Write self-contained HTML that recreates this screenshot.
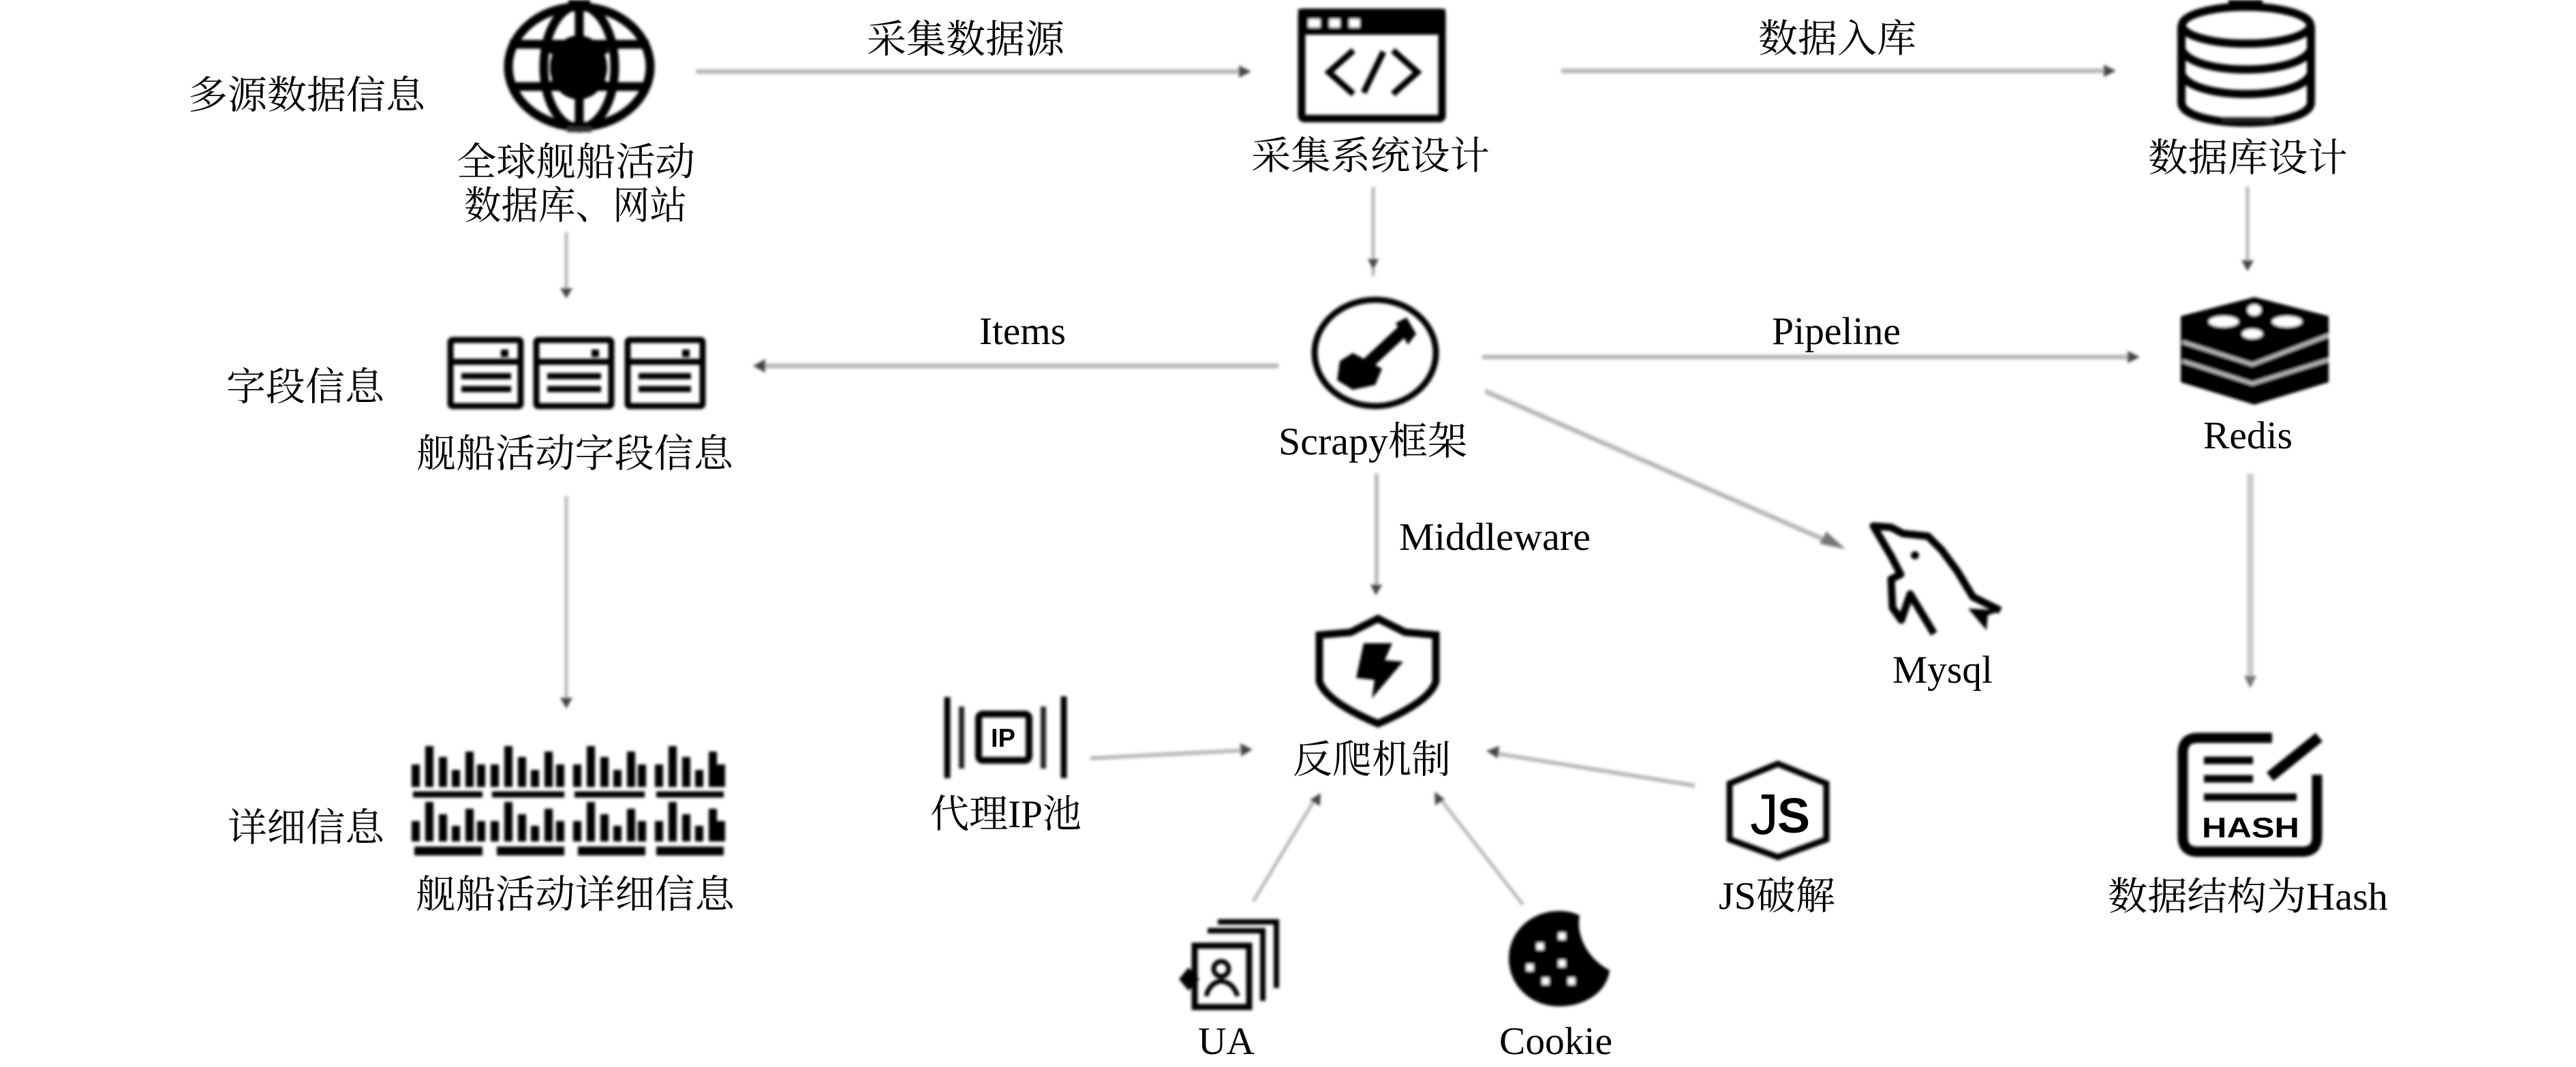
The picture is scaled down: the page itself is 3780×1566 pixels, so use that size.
<!DOCTYPE html>
<html><head><meta charset="utf-8"><style>
html,body{margin:0;padding:0;background:#fff}
svg{display:block}
text{font-family:"Liberation Serif","Noto Serif CJK SC",serif;font-size:57px;fill:#000}
.i{fill:none;stroke:#000}
.l{stroke:#b8b8b8;stroke-width:7;fill:none}
.h{fill:#444}
</style></head><body>
<svg xmlns="http://www.w3.org/2000/svg" width="3780" height="1566" viewBox="0 0 3780 1566">
<defs><filter id="b" x="-5%" y="-5%" width="110%" height="110%"><feGaussianBlur stdDeviation="2"/></filter></defs>
<rect width="3780" height="1566" fill="#fff"/>

<!-- connectors -->
<g filter="url(#b)">
<path class="l" d="M1021 105H1826"/><polygon class="h" points="1818,96 1836,105 1818,114"/>
<path class="l" d="M2291 104H3095"/><polygon class="h" points="3087,95 3105,104 3087,113"/>
<path class="l" style="stroke-width:5" d="M831 341V430"/><polygon class="h" points="822,423 840,423 831,438"/>
<path class="l" style="stroke-width:5" d="M2015 274V405"/><polygon class="h" points="2007,380 2023,380 2015,396"/>
<path class="l" d="M1876 537H1115"/><polygon class="h" points="1123,527 1105,537 1123,547"/>
<path class="l" d="M2175 524H3130"/><polygon class="h" points="3122,515 3140,524 3122,533"/>
<path class="l" d="M2179 574L2695 800"/><polygon class="h" points="2680,780 2708,806 2670,798" style="fill:#777"/>
<path class="l" style="stroke-width:6" d="M2020 695V865"/><polygon class="h" points="2011,858 2028,858 2019,874"/>
<path class="l" style="stroke-width:5" d="M3298 274V390"/><polygon class="h" points="3289,382 3307,382 3298,398"/>
<path class="l" style="stroke:#ccc;stroke-width:10" d="M3302 695V1005"/><polygon class="h" points="3293,992 3311,992 3302,1010" style="fill:#777"/>
<path class="l" style="stroke-width:5" d="M831 728V1025"/><polygon class="h" points="822,1024 840,1024 831,1040"/>
<path class="l" style="stroke-width:6" d="M1600 1113L1828 1101"/><polygon class="h" points="1820,1091 1838,1100 1821,1110"/>
<path class="l" style="stroke-width:6" d="M2487 1153L2190 1105"/><polygon class="h" points="2200,1095 2181,1102 2198,1113"/>
<path class="l" style="stroke-width:5" d="M1839 1323L1930 1172"/><polygon class="h" points="1922,1174 1938,1164 1937,1183"/>
<path class="l" style="stroke-width:5" d="M2235 1328L2113 1172"/><polygon class="h" points="2106,1182 2105,1162 2120,1173"/>
</g>

<!-- icons -->
<g filter="url(#b)">
<!-- globe -->
<g class="i" stroke-width="13">
<ellipse cx="850" cy="98" rx="104" ry="88"/>
<ellipse cx="850" cy="98" rx="52" ry="90"/>
<path d="M748 65H952M748 127H952M850 6V190"/>
</g>
<ellipse cx="849" cy="99" rx="42" ry="47" fill="#000"/>
<path d="M806 72L892 126M892 72L806 126" stroke="#000" stroke-width="9"/>
<rect x="834" y="0" width="32" height="10" fill="#000"/><rect x="832" y="186" width="36" height="8" fill="#333"/>

<!-- field icons -->
<g class="i" stroke-width="9">
<rect x="661" y="499" width="103" height="97" rx="3"/><path d="M661 531H764M677 552H750M677 571H750"/>
<rect x="787" y="499" width="110" height="97" rx="3"/><path d="M787 531H897M803 552H882M803 571H882"/>
<rect x="921" y="499" width="110" height="97" rx="3"/><path d="M921 531H1031M937 552H1014M937 571H1014"/>
</g>
<rect x="735" y="513" width="11" height="11"/><rect x="868" y="513" width="11" height="11"/><rect x="1001" y="513" width="11" height="11"/>

<!-- bars -->
<g stroke="#000" stroke-width="12" fill="none">
<path d="M610 1155V1122M630 1155V1095M650 1155V1111M669 1155V1130M689 1155V1103M706 1155V1122 M726 1155V1122M746 1155V1095M766 1155V1111M785 1155V1130M805 1155V1103M822 1155V1122 M847 1155V1122M867 1155V1095M887 1155V1111M906 1155V1130M926 1155V1103M942 1155V1122 M967 1155V1122M987 1155V1095M1007 1155V1111M1026 1155V1130M1046 1155V1103M1058 1155V1122"/>
<path d="M610 1235V1205M630 1235V1177M650 1235V1195M669 1235V1212M689 1235V1187M706 1235V1205 M726 1235V1205M746 1235V1177M766 1235V1195M785 1235V1212M805 1235V1187M822 1235V1205 M847 1235V1205M867 1235V1177M887 1235V1195M906 1235V1212M926 1235V1187M942 1235V1205 M967 1235V1205M987 1235V1177M1007 1235V1195M1026 1235V1212M1046 1235V1187M1058 1235V1205"/>
<path stroke-width="9" d="M606 1166H708M722 1166H828M843 1166H946M963 1166H1062"/>
<path stroke-width="13" d="M608 1249H708M729 1249H828M848 1249H947M963 1249H1062"/>
</g>

<!-- window -->
<rect x="1910" y="18" width="206" height="156" rx="4" class="i" stroke-width="11"/>
<rect x="1905" y="13" width="216" height="38" fill="#000"/>
<rect x="1920" y="28" width="17" height="12" fill="#fff"/><rect x="1951" y="28" width="15" height="12" fill="#fff"/><rect x="1980" y="28" width="15" height="12" fill="#fff"/>
<path class="i" stroke-width="9" d="M1986 74L1950 106L1986 138M2030 76L2001 136M2044 74L2080 106L2044 138"/>

<!-- database -->
<g class="i" stroke-width="12">
<ellipse cx="3296" cy="37" rx="94" ry="27"/>
<path d="M3201 37V150C3201 190 3391 190 3391 150V37"/>
<path d="M3201 72C3215 112 3377 112 3391 72M3201 108C3215 148 3377 148 3391 108"/>
</g>
<rect x="3270" y="0" width="50" height="8"/><rect x="3260" y="172" width="76" height="7" fill="#222"/>

<!-- scrapy -->
<ellipse cx="2018" cy="518" rx="89" ry="78" class="i" stroke-width="9"/>
<path d="M2058 486L2000 540" stroke="#000" stroke-width="18"/>
<path d="M2048 474L2064 466L2078 490L2066 506Z" fill="#000"/>
<polygon points="1985,518 2028,541 2018,565 1985,572 1962,558 1966,530" fill="#000"/>

<!-- redis -->
<polygon points="3308,436 3417,464 3417,561 3308,594 3200,561 3200,464"/>
<path d="M3203 502L3305 535L3417 492M3203 530L3305 563L3417 528" fill="none" stroke="#bbb" stroke-width="5"/>
<ellipse cx="3263" cy="472" rx="22" ry="8" fill="#fff"/><ellipse cx="3356" cy="472" rx="22" ry="8" fill="#fff"/>
<ellipse cx="3308" cy="455" rx="10" ry="8" fill="#fff"/><ellipse cx="3305" cy="490" rx="15" ry="7" fill="#fff"/>

<!-- mysql -->
<path class="i" stroke-width="11" stroke-linejoin="round" d="M2838 930L2803 872L2790 910L2777 892L2775 850L2789 843L2775 816L2749 772L2775 774L2792 783L2829 787L2849 807L2872 838L2895 876L2935 896"/>
<polygon points="2888,893 2938,896 2917,903 2915,925"/>
<circle cx="2810" cy="815" r="6"/>

<!-- hash -->
<path class="i" stroke-width="15" d="M3334 1083H3225Q3203 1083 3203 1105V1228Q3203 1250 3225 1250H3378Q3400 1250 3400 1228V1137"/>
<path d="M3331 1140L3403 1082" stroke="#000" stroke-width="16"/>
<path d="M3234 1116H3306M3234 1143H3306M3234 1170H3370" stroke="#000" stroke-width="11"/>

<!-- ip -->
<path d="M1390 1023V1142M1561 1022V1142" stroke="#000" stroke-width="9"/>
<path d="M1411 1037V1128M1531 1037V1128" stroke="#222" stroke-width="8"/>
<rect x="1436" y="1048" width="74" height="68" rx="6" class="i" stroke-width="10"/>

<!-- shield -->
<path class="i" stroke-width="11" d="M2022 908L2062 928L2107 932V1000Q2098 1030 2022 1062Q1946 1030 1936 1000V932L1982 928Z"/>
<polygon points="2001,944 2043,944 2032,969 2059,971 2013,1025 2017,998 1990,995"/>

<!-- js -->
<polygon class="i" stroke-width="9" points="2609,1121 2680,1150 2680,1232 2609,1258 2538,1232 2538,1150"/>

<!-- ua -->
<rect x="1753" y="1388" width="80" height="90" class="i" stroke-width="9"/>
<path class="i" stroke-width="8" d="M1772 1366H1853V1469M1787 1353H1873V1450"/>
<circle cx="1792" cy="1422" r="11" class="i" stroke-width="7"/>
<path class="i" stroke-width="7" d="M1770 1462Q1775 1442 1792 1440Q1810 1442 1816 1462"/>
<polygon points="1744,1420 1760,1437 1744,1454 1730,1437"/>

<!-- cookie -->
<path d="M2288 1337C2300 1337 2312 1340 2318 1344C2312 1372 2330 1408 2362 1424C2358 1456 2326 1477 2288 1477C2244 1477 2214 1444 2214 1407C2214 1368 2246 1337 2288 1337Z"/>
<g fill="#fff"><rect x="2287" y="1369" width="10" height="10"/><rect x="2255" y="1384" width="10" height="10"/><rect x="2287" y="1409" width="10" height="10"/><rect x="2240" y="1415" width="10" height="10"/><rect x="2263" y="1435" width="10" height="10"/><rect x="2301" y="1435" width="10" height="10"/></g>
</g>

<text x="1472" y="1096" text-anchor="middle" style="font-family:'Liberation Sans',sans-serif;font-weight:bold;font-size:38px">IP</text>
<text x="3231" y="1229" textLength="143" lengthAdjust="spacingAndGlyphs" style="font-family:'Liberation Sans',sans-serif;font-weight:bold;font-size:42px">HASH</text>
<text x="2568" y="1224" style="font-family:'Liberation Sans',sans-serif;font-size:84px">J</text>
<text x="2608" y="1222" style="font-family:'Liberation Sans',sans-serif;font-weight:bold;font-size:72px">S</text>

<!-- labels -->
<text x="276" y="159" textLength="348" lengthAdjust="spacingAndGlyphs">多源数据信息</text>
<text x="670" y="257" textLength="350" lengthAdjust="spacingAndGlyphs">全球舰船活动</text>
<text x="681" y="321" textLength="327" lengthAdjust="spacingAndGlyphs">数据库、网站</text>
<text x="332" y="587" textLength="232" lengthAdjust="spacingAndGlyphs">字段信息</text>
<text x="611" y="685" textLength="465" lengthAdjust="spacingAndGlyphs">舰船活动字段信息</text>
<text x="334" y="1234" textLength="230" lengthAdjust="spacingAndGlyphs">详细信息</text>
<text x="610" y="1332" textLength="468" lengthAdjust="spacingAndGlyphs">舰船活动详细信息</text>
<text x="1272" y="77" textLength="290" lengthAdjust="spacingAndGlyphs">采集数据源</text>
<text x="1836" y="248" textLength="350" lengthAdjust="spacingAndGlyphs">采集系统设计</text>
<text x="2580" y="76" textLength="232" lengthAdjust="spacingAndGlyphs">数据入库</text>
<text x="3152" y="251" textLength="293" lengthAdjust="spacingAndGlyphs">数据库设计</text>
<text x="1437" y="505" textLength="127" lengthAdjust="spacingAndGlyphs">Items</text>
<text x="2600" y="505" textLength="189" lengthAdjust="spacingAndGlyphs">Pipeline</text>
<text x="1876" y="667" textLength="277" lengthAdjust="spacingAndGlyphs">Scrapy框架</text>
<text x="3233" y="658" textLength="131" lengthAdjust="spacingAndGlyphs">Redis</text>
<text x="2053" y="807" textLength="281" lengthAdjust="spacingAndGlyphs">Middleware</text>
<text x="2777" y="1002" textLength="147" lengthAdjust="spacingAndGlyphs">Mysql</text>
<text x="1897" y="1134" textLength="232" lengthAdjust="spacingAndGlyphs">反爬机制</text>
<text x="1365" y="1214" textLength="222" lengthAdjust="spacingAndGlyphs">代理IP池</text>
<text x="2522" y="1334" textLength="171" lengthAdjust="spacingAndGlyphs">JS破解</text>
<text x="3093" y="1335" textLength="411" lengthAdjust="spacingAndGlyphs">数据结构为Hash</text>
<text x="1758" y="1547" textLength="83" lengthAdjust="spacingAndGlyphs">UA</text>
<text x="2200" y="1547" textLength="166" lengthAdjust="spacingAndGlyphs">Cookie</text>
</svg>
</body></html>
